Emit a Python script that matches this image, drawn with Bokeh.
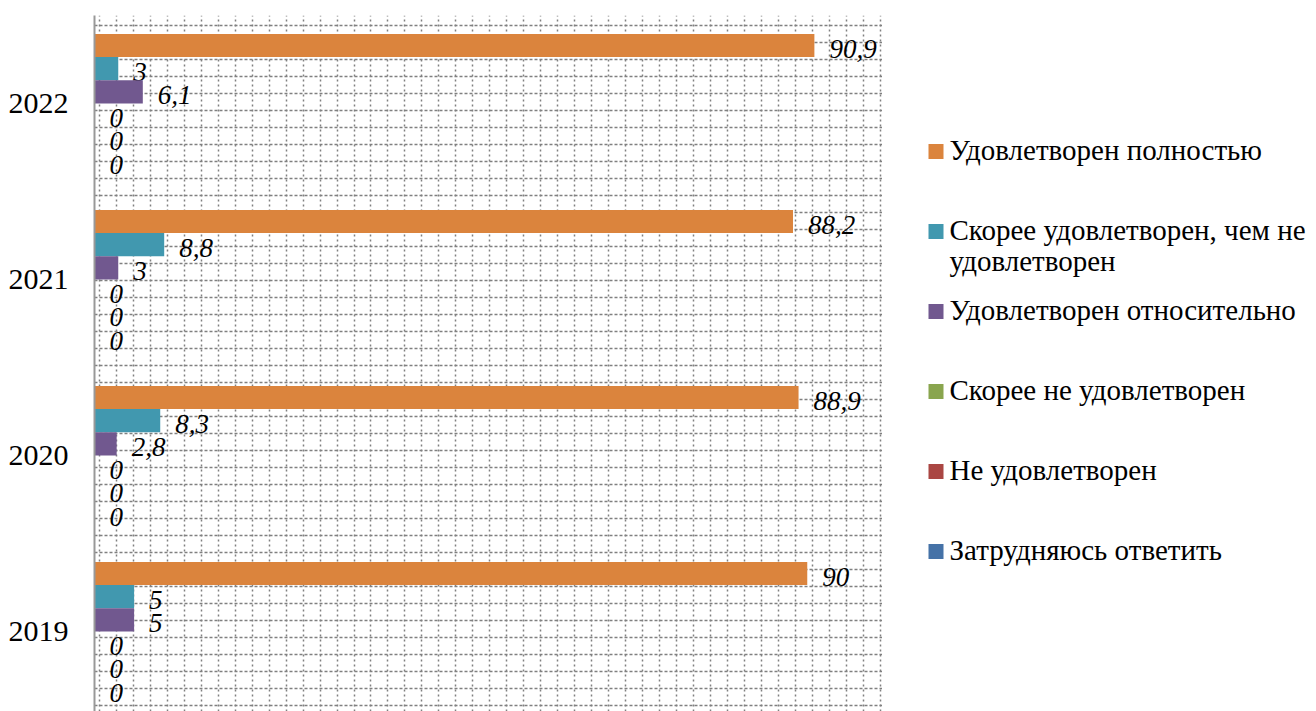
from bokeh.plotting import figure
from bokeh.models import Range1d, FixedTicker, Grid
from bokeh.layouts import row
from bokeh.core.properties import value
from bokeh.embed import file_html
from bokeh.resources import INLINE

# ---- data ----
years = ["2019", "2020", "2021", "2022"]
series_names = [
    "Удовлетворен полностью",
    "Скорее удовлетворен, чем не удовлетворен",
    "Удовлетворен относительно",
    "Скорее не удовлетворен",
    "Не удовлетворен",
    "Затрудняюсь ответить",
]
legend_lines = [
    ["Удовлетворен полностью"],
    ["Скорее удовлетворен, чем не", "удовлетворен"],
    ["Удовлетворен относительно"],
    ["Скорее не удовлетворен"],
    ["Не удовлетворен"],
    ["Затрудняюсь ответить"],
]
colors = ["#DB843D", "#4198AF", "#71588F", "#89A54E", "#AA4643", "#4572A7"]
# values per series, order matches years (2019, 2020, 2021, 2022)
polnostyu = [90, 88.9, 88.2, 90.9]
skoree_udovl = [5, 8.3, 8.8, 3]
otnositelno = [5, 2.8, 3, 6.1]
skoree_ne = [0, 0, 0, 0]
ne_udovl = [0, 0, 0, 0]
zatrudnyayus = [0, 0, 0, 0]
series_values = [polnostyu, skoree_udovl, otnositelno, skoree_ne, ne_udovl, zatrudnyayus]


def fmt(v):
    s = ("%g" % v)
    return s.replace(".", ",")


FONT_NAME = "Liberation Serif"
FONT = value(FONT_NAME)
BAND_PX = 176.0
TOP = 15
H = 711
FRAME_H = H - TOP
centers = [i + 0.5 for i in range(len(years))]
bar_h = 23.2 / BAND_PX

p = figure(width=882, height=H, output_backend="svg", toolbar_location=None,
           x_range=Range1d(0, 99.5), y_range=Range1d(4 - FRAME_H / BAND_PX, 4),
           x_axis_location=None, y_axis_location="left",
           min_border_left=94, min_border_right=0, min_border_top=TOP, min_border_bottom=0)
p.outline_line_color = None
p.background_fill_color = "white"
for g in p.grid:
    g.visible = False

# grids
xticks = [0.63 + k * (16.97 / 7.92) for k in range(47)]
yticks = [4 - (10 + 17.0 * k) / BAND_PX for k in range(41)]
p.add_layout(Grid(dimension=0, ticker=FixedTicker(ticks=xticks),
                  grid_line_color="#808080", grid_line_dash="2 3", grid_line_width=1.5))
p.add_layout(Grid(dimension=1, ticker=FixedTicker(ticks=yticks),
                  grid_line_color="#808080", grid_line_dash="3 2", grid_line_width=1.5))

# y axis
ax = p.yaxis[0]
ax.ticker = FixedTicker(ticks=centers)
ax.major_label_overrides = {c: y for c, y in zip(centers, years)}
ax.major_tick_line_color = None
ax.minor_tick_line_color = None
ax.major_tick_out = 0
ax.major_tick_in = 0
ax.major_label_standoff = 26
ax.axis_line_color = "#999999"
ax.axis_line_width = 2
ax.major_label_text_font = FONT_NAME
ax.major_label_text_font_size = "30px"
ax.major_label_text_color = "black"

for j, (vals, col) in enumerate(zip(series_values, colors)):
    ys = [c + (2.5 - j) * bar_h for c in centers]
    p.hbar(y=ys, left=0, right=vals, height=bar_h, fill_color=col, line_color=None)
    p.text(x=vals, y=ys, text=[fmt(v) for v in vals], x_offset=15, y_offset=3,
           text_align="left", text_baseline="middle", text_font=FONT,
           text_font_style="italic", text_font_size="27px", text_color="black")

# legend panel (y data == page pixels)
lg = figure(width=1316 - 882, height=H, output_backend="svg", toolbar_location=None,
            x_range=Range1d(882, 1316), y_range=Range1d(H, TOP),
            x_axis_location=None, y_axis_location=None,
            min_border=0, min_border_left=0, min_border_right=0,
            min_border_top=TOP, min_border_bottom=0)
lg.outline_line_color = None
for g in lg.grid:
    g.visible = False

item_y = [151 + 80 * i for i in range(len(series_names))]
lg.rect(x=[935.5] * len(item_y), y=item_y, width=15, height=15,
        fill_color=colors, line_color=None)
tx, ty, tt = [], [], []
for yv, lines in zip(item_y, legend_lines):
    for k, ln in enumerate(lines):
        tx.append(949)
        ty.append(yv - 2 + 31 * k)
        tt.append(ln)
lg.text(x=tx, y=ty, text=tt, text_align="left", text_baseline="middle",
        text_font=FONT, text_font_size="29px", text_color="black")

layout = row(p, lg, spacing=0)
open("out.html", "w").write(file_html(layout, INLINE))
